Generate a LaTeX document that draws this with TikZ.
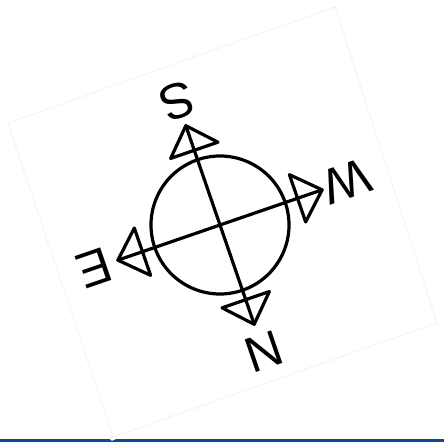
\documentclass[tikz,border=0pt]{standalone}
\usepackage{fontspec}
\newfontfamily\lblfont{Liberation Sans}
\definecolor{barblue}{HTML}{0B4A94}
\tikzset{
  ink/.style={draw=black, line width=3.2pt, line join=round, line cap=round},
  headtri/.style={draw=black, line width=3.2pt, line join=round},
  lbl/.style={inner sep=0pt, font=\lblfont\fontsize{50}{50}\selectfont},
  faint/.style={draw=black!7, line width=1pt, densely dotted}
}
\begin{document}
\begin{tikzpicture}[x=1pt,y=1pt]
\useasboundingbox (0,0) rectangle (444,442);
\fill[white] (0,0) rectangle (444,442);
% faint rotated sheet
\coordinate (q1) at (335,435);
\coordinate (q2) at (437,119);
\coordinate (q3) at (113,5);
\coordinate (q4) at (8,319);
\draw[faint] (q1) -- (q2) -- (q3) -- (q4) -- cycle;
% blue bar
\fill[barblue] (0,0) rectangle (444,3.5);
\fill[white] (109,3.5) -- (117,3.5) -- (112,1.2) -- cycle;
% compass
\begin{scope}[shift={(220,217)}, rotate=-161, transform shape]
  \coordinate (c) at (0,0);
  \node[circle, draw=black, line width=3.2pt, minimum size=138pt, inner sep=0pt] (ring) at (c) {};
  \coordinate (tn) at (0,105);
  \coordinate (ts) at (0,-105);
  \coordinate (te) at (108,0);
  \coordinate (tw) at (-108,0);
  \draw[ink] (ts) -- (tn);
  \draw[ink] (tw) -- (te);
  \draw[headtri] (tn) -- (-25,79) -- (25,79) -- cycle;
  \draw[headtri] (ts) -- (25,-79) -- (-25,-79) -- cycle;
  \draw[headtri] (te) -- (82,25) -- (82,-25) -- cycle;
  \draw[headtri] (tw) -- (-82,-25) -- (-82,25) -- cycle;
  \node[lbl] (ln) at (0,134) {N};
  \node[lbl] (ls) at (0,-131) {S};
  \node[lbl] (le) at (133,0) {E};
  \node[lbl] (lw) at (-134,0) {W};
\end{scope}
\end{tikzpicture}
\end{document}
